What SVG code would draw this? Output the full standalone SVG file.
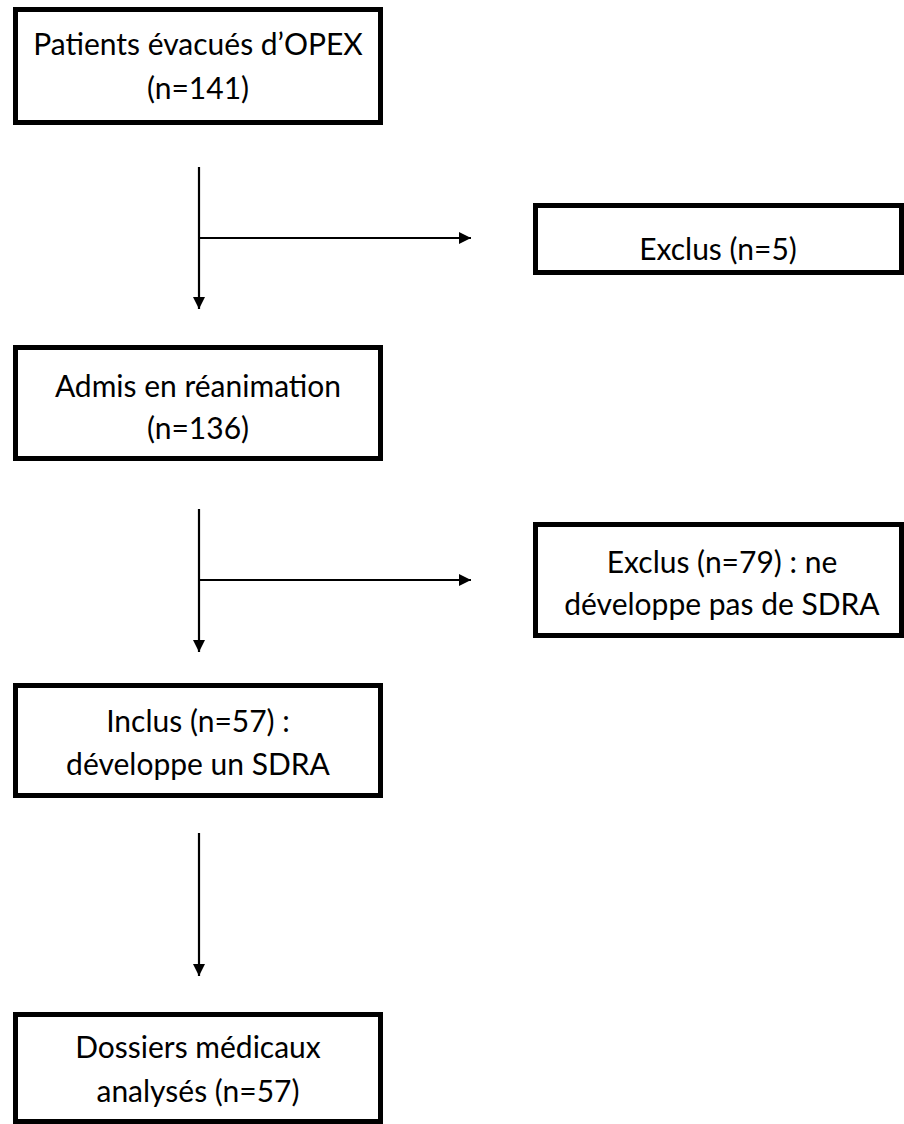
<svg xmlns="http://www.w3.org/2000/svg" width="904" height="1124" viewBox="0 0 904 1124">
<style>
.box{fill:#fff;stroke:#000;stroke-width:5}
.t{font-family:Lato,"Liberation Sans",sans-serif;font-size:30px;fill:#000;text-anchor:middle}
.c{stroke:#000;stroke-width:2.2;fill:none}
</style>
<defs>
<marker id="ah" viewBox="0 0 12 12" refX="12" refY="6" markerWidth="12" markerHeight="12" markerUnits="userSpaceOnUse" orient="auto">
<path d="M0,0 L12,6 L0,12 z" fill="#000"/>
</marker>
</defs>
<rect width="904" height="1124" fill="#fff"/>
<g id="connectors">
<line class="c" x1="199" y1="167" x2="199" y2="309" marker-end="url(#ah)"/>
<line class="c" x1="199" y1="238" x2="471" y2="238" marker-end="url(#ah)"/>
<line class="c" x1="199" y1="509" x2="199" y2="652" marker-end="url(#ah)"/>
<line class="c" x1="199" y1="580" x2="471" y2="580" marker-end="url(#ah)"/>
<line class="c" x1="199" y1="833" x2="199" y2="976" marker-end="url(#ah)"/>
</g>
<g id="n1">
<rect class="box" x="15.5" y="9.5" width="365" height="113"/>
<text class="t" x="198" y="55">Patients évacués d’OPEX</text>
<text class="t" x="198" y="99">(n=141)</text>
</g>
<g id="n2">
<rect class="box" x="535.5" y="205.5" width="366" height="67"/>
<text class="t" x="718" y="260">Exclus (n=5)</text>
</g>
<g id="n3">
<rect class="box" x="15.5" y="347.5" width="365" height="111"/>
<text class="t" x="198" y="397">Admis en réanimation</text>
<text class="t" x="198" y="439">(n=136)</text>
</g>
<g id="n4">
<rect class="box" x="535.5" y="524.5" width="366" height="111"/>
<text class="t" x="722" y="573">Exclus (n=79) : ne</text>
<text class="t" x="722" y="615">développe pas de SDRA</text>
</g>
<g id="n5">
<rect class="box" x="15.5" y="685.5" width="365" height="110"/>
<text class="t" x="198" y="732">Inclus (n=57) :</text>
<text class="t" x="198" y="775">développe un SDRA</text>
</g>
<g id="n6">
<rect class="box" x="15.5" y="1014.5" width="365" height="107"/>
<text class="t" x="198" y="1058">Dossiers médicaux</text>
<text class="t" x="198" y="1102">analysés (n=57)</text>
</g>
</svg>
